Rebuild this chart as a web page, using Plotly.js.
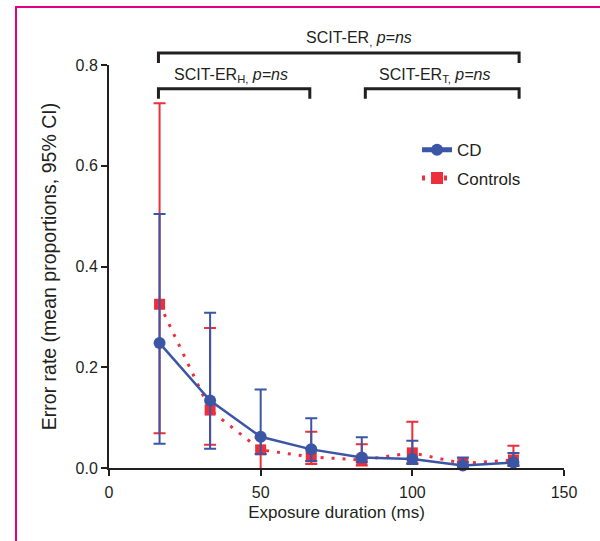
<!DOCTYPE html>
<html>
<head>
<meta charset="utf-8">
<script src="https://cdn.plot.ly/plotly-3.0.1.min.js"></script>
<style>
  html, body { margin: 0; padding: 0; background: #fff; }
  #wrap { position: relative; width: 600px; height: 541px; }
  #chart { width: 600px; height: 541px; }
  #frame { position: absolute; left: 15px; top: 6px; width: 590px; height: 540px;
           border-top: 2px solid #e4007c; border-left: 2px solid #e4007c; pointer-events: none; }
</style>
</head>
<body>
<div id="wrap"><div id="chart"></div><div id="frame"></div></div>
<script>
// Exposure durations (ms)
const xVals = [16.67, 33.33, 50, 66.67, 83.33, 100, 116.67, 133.33];
// CD group: mean error rate and 95% CI bounds
const cdMean  = [0.248, 0.134, 0.062, 0.037, 0.021, 0.018, 0.005, 0.011];
const cdUpper = [0.504, 0.308, 0.156, 0.099, 0.061, 0.054, 0.021, 0.030];
const cdLower = [0.048, 0.038, 0.028, 0.014, 0.012, 0.008, 0.000, 0.004];
// Controls: mean error rate and 95% CI bounds
const ctrlMean  = [0.325, 0.115, 0.036, 0.022, 0.016, 0.030, 0.009, 0.016];
const ctrlUpper = [0.724, 0.278, 0.060, 0.072, 0.047, 0.092, 0.012, 0.044];
const ctrlLower = [0.069, 0.046, -0.022, 0.008, 0.005, 0.010, 0.004, 0.006];
// Axis ticks
const xTicks = [0, 50, 100, 150];
const yTicks = [0, 0.2, 0.4, 0.6, 0.8];
// Comparison brackets: label, span along x (ms)
const bracketLabels = ['SCIT-ER<sub>,</sub> <i>p=ns</i>', 'SCIT-ER<sub>H,</sub> <i>p=ns</i>', 'SCIT-ER<sub>T,</sub> <i>p=ns</i>'];
const bracketStart = [16.3, 16.3, 84.5];
const bracketEnd   = [135.2, 66.2, 135.2];

const xRange = [0, 150];
const yRange = [0, 0.8];

const BLUE = '#3a56a5';
const RED = '#ec2f3b';
const INK = '#231f20';
const FONT = 'Liberation Sans, Arial, sans-serif';

const diff = (a, b) => a.map((v, i) => v - b[i]);

const ctrl = {
  x: xVals, y: ctrlMean, name: 'Controls', type: 'scatter', mode: 'lines+markers',
  legendgroup: 'b', legendrank: 2,
  line: { color: RED, width: 3, dash: '3px,8px' },
  marker: { symbol: 'square', size: 11, color: RED },
  error_y: { type: 'data', symmetric: false, array: diff(ctrlUpper, ctrlMean),
             arrayminus: diff(ctrlMean, ctrlLower), color: RED, thickness: 2, width: 6 },
  cliponaxis: false
};
const cd = {
  x: xVals, y: cdMean, name: 'CD', type: 'scatter', mode: 'lines+markers',
  legendgroup: 'a', legendrank: 1,
  line: { color: BLUE, width: 2.5 },
  marker: { symbol: 'circle', size: 12, color: BLUE },
  error_y: { type: 'data', symmetric: false, array: diff(cdUpper, cdMean),
             arrayminus: diff(cdMean, cdLower), color: BLUE, thickness: 2, width: 6 },
  cliponaxis: false
};

const xp = v => (v - xRange[0]) / (xRange[1] - xRange[0]);
const yp = v => (v - yRange[0]) / (yRange[1] - yRange[0]);

// bracket levels (in data units of the y axis)
const levelTop = [0.824, 0.753, 0.753];
const legDrop = 0.02;
const labelY = [0.853, 0.780, 0.780];
const labelX = [82.5, 40.2, 107.2];

const shapes = [];
const annotations = [];
for (let i = 0; i < bracketStart.length; i++) {
  shapes.push({
    type: 'path', xref: 'paper', yref: 'paper',
    path: `M ${xp(bracketStart[i])} ${yp(levelTop[i] - legDrop)} L ${xp(bracketStart[i])} ${yp(levelTop[i])} L ${xp(bracketEnd[i])} ${yp(levelTop[i])} L ${xp(bracketEnd[i])} ${yp(levelTop[i] - legDrop)}`,
    line: { color: INK, width: 3 }
  });
  annotations.push({
    xref: 'paper', yref: 'paper', x: xp(labelX[i]), y: yp(labelY[i]),
    text: bracketLabels[i], showarrow: false, xanchor: 'center', yanchor: 'middle',
    font: { family: FONT, size: 16, color: INK }
  });
}

const layout = {
  width: 600, height: 541,
  margin: { l: 109, r: 36, t: 65, b: 73, pad: 0 },
  paper_bgcolor: '#fff', plot_bgcolor: '#fff',
  font: { family: FONT, size: 16, color: INK },
  showlegend: true,
  legend: { x: 0.677, y: 0.833, xanchor: 'left', yanchor: 'top', traceorder: 'grouped',
            bgcolor: 'rgba(0,0,0,0)', font: { family: FONT, size: 17, color: INK },
            itemsizing: 'constant', tracegroupgap: 3 },
  xaxis: {
    range: xRange, tickvals: xTicks, ticktext: xTicks.map(String),
    showgrid: false, zeroline: false, showline: true, linecolor: INK, linewidth: 2,
    ticks: 'outside', ticklen: 6, tickwidth: 2, tickcolor: INK, ticklabelstandoff: 3,
    tickfont: { family: FONT, size: 16, color: INK },
    title: { text: 'Exposure duration (ms)', font: { family: FONT, size: 17, color: INK }, standoff: 6 }
  },
  yaxis: {
    range: yRange, tickvals: yTicks, tickformat: '.1f',
    showgrid: false, zeroline: false, showline: true, linecolor: INK, linewidth: 2,
    ticks: 'outside', ticklen: 6, tickwidth: 2, tickcolor: INK,
    tickfont: { family: FONT, size: 16, color: INK },
    title: { text: 'Error rate (mean proportions, 95% CI)', font: { family: FONT, size: 19.5, color: INK }, standoff: 14 }
  },
  shapes: shapes,
  annotations: annotations
};

Plotly.newPlot('chart', [ctrl, cd], layout, { displayModeBar: false, staticPlot: true });
</script>
</body>
</html>
